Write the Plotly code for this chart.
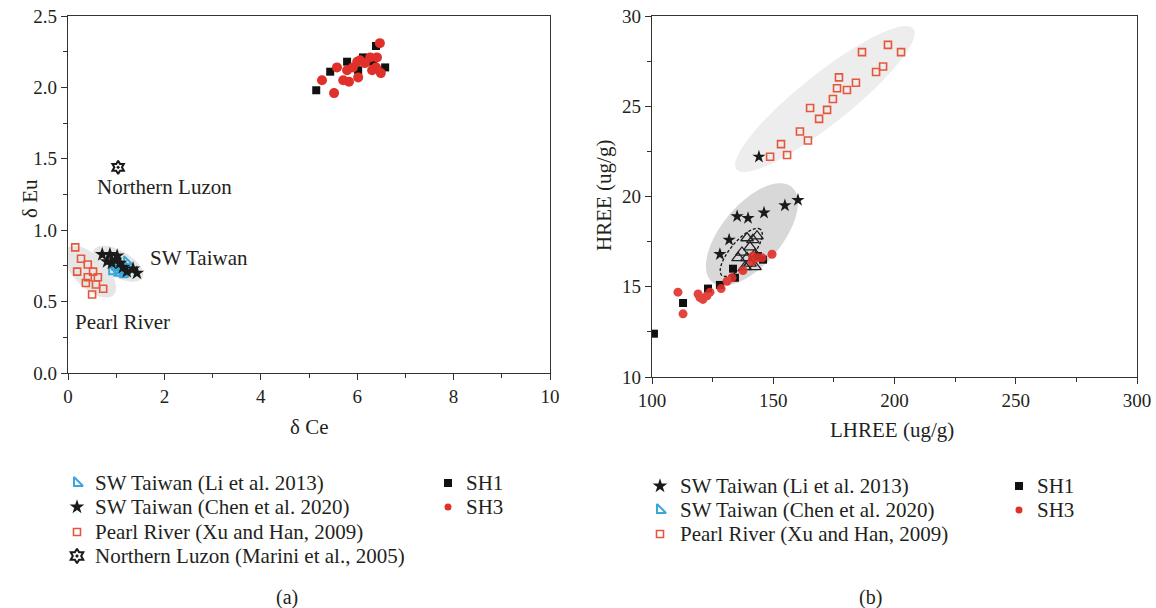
import numpy as np
import plotly.graph_objects as go

# ---------------- data ----------------
# Panel (a): delta Ce vs delta Eu
a_sh1_x = [5.15, 5.44, 5.79, 6.12, 6.02, 6.33, 6.39, 6.58]
a_sh1_y = [1.98, 2.11, 2.18, 2.21, 2.12, 2.18, 2.29, 2.14]
a_sh3_x = [6.47, 5.27, 5.52, 5.58, 5.79, 5.71, 5.83, 6.02, 6.00, 6.06, 6.27, 6.41, 6.31, 6.49, 6.39, 5.91, 6.16]
a_sh3_y = [2.31, 2.05, 1.96, 2.14, 2.12, 2.05, 2.04, 2.07, 2.18, 2.19, 2.21, 2.21, 2.12, 2.10, 2.14, 2.14, 2.17]
a_pearl_x = [0.15, 0.27, 0.19, 0.41, 0.52, 0.41, 0.62, 0.37, 0.58, 0.73, 0.50]
a_pearl_y = [0.88, 0.80, 0.71, 0.76, 0.71, 0.67, 0.67, 0.63, 0.62, 0.59, 0.55]
a_chen_x = [0.71, 0.87, 1.02, 0.81, 0.98, 1.08, 1.14, 1.22, 1.35, 1.43, 0.91]
a_chen_y = [0.83, 0.83, 0.82, 0.78, 0.79, 0.77, 0.74, 0.71, 0.73, 0.70, 0.77]
a_li_x = [1.22, 0.91, 1.02, 1.08, 1.18, 1.24, 0.98, 1.14]
a_li_y = [0.78, 0.71, 0.70, 0.72, 0.71, 0.74, 0.74, 0.69]
a_luzon_x = [1.04]
a_luzon_y = [1.44]

# Panel (b): LHREE vs HREE
b_pearl_x = [186.6, 197.3, 202.7, 192.4, 195.3, 177.1, 184.1, 180.4, 176.3, 174.6, 172.2, 165.2, 168.9, 161.0, 164.3, 153.2, 155.7, 148.7]
b_pearl_y = [28.0, 28.4, 28.0, 26.9, 27.2, 26.6, 26.3, 25.9, 26.0, 25.4, 24.8, 24.9, 24.3, 23.6, 23.1, 22.9, 22.3, 22.2]
b_li_x = [144.1, 135.1, 139.6, 146.2, 154.8, 160.2, 131.8, 128.0]
b_li_y = [22.2, 18.9, 18.8, 19.1, 19.5, 19.8, 17.6, 16.8]
b_chen_x = [139.2, 141.6, 140.4, 137.1, 139.2, 142.5, 135.5, 138.4, 142.5, 140.4, 143.3]
b_chen_y = [17.7, 17.6, 17.2, 16.9, 16.6, 16.8, 16.6, 16.1, 16.1, 16.3, 17.8]
b_sh1_x = [100.8, 112.8, 123.1, 128.0, 134.2, 133.4, 145.8, 143.7]
b_sh1_y = [12.4, 14.1, 14.9, 15.1, 15.5, 16.0, 16.5, 16.7]
b_sh3_x = [110.7, 112.8, 119.0, 121.0, 122.7, 123.9, 119.8, 128.5, 130.9, 133.0, 137.5, 141.2, 143.7, 149.5, 141.6, 145.4]
b_sh3_y = [14.7, 13.5, 14.6, 14.3, 14.5, 14.7, 14.4, 14.9, 15.3, 15.5, 15.9, 16.4, 16.6, 16.8, 16.7, 16.6]

# legend labels
leg_a_left = ["SW Taiwan (Li et al. 2013)", "SW Taiwan (Chen et al. 2020)",
              "Pearl River (Xu and Han, 2009)", "Northern Luzon (Marini et al., 2005)"]
leg_a_right = ["SH1", "SH3"]
leg_b_left = ["SW Taiwan (Li et al. 2013)", "SW Taiwan (Chen et al. 2020)", "Pearl River (Xu and Han, 2009)"]
leg_b_right = ["SH1", "SH3"]

# ---------------- layout constants ----------------
W, H = 1156, 608
FONT = "Liberation Serif"
TXT = "#231f20"
RED = "#e0302a"
ORANGE = "#e5573c"
BLUE = "#3aa7d9"
BLACK = "#1a1a1a"

ax_a = dict(x0=68, x1=550, y0=16, y1=373, xr=(0, 10), yr=(0, 2.5))
ax_b = dict(x0=652, x1=1137, y0=16, y1=377, xr=(100, 300), yr=(10, 30))

# marker styles
ST = dict(
    li_tri=dict(symbol="triangle-sw-open", size=9, color=BLUE, line=dict(width=2)),
    star=dict(symbol="star", size=11, color=BLACK, line=dict(width=0)),
    pearl=dict(symbol="square-open", size=7, color=ORANGE, line=dict(width=1.6)),
    luzon=dict(symbol="hexagram-open-dot", size=10, color=BLACK, line=dict(width=2)),
    sh1=dict(symbol="square", size=8, color="#111111"),
    sh3=dict(symbol="circle", size=10, color=RED),
    chen_b=dict(symbol="triangle-up-open", size=11, color="#222222", line=dict(width=1.3)),
)


def dom(ax):
    return [ax["x0"] / W, ax["x1"] / W], [1 - ax["y1"] / H, 1 - ax["y0"] / H]


def ellipse_path(ax, cx, cy, a_px, b_px, ang_deg):
    """Ellipse with semi-axes given in screen pixels, converted to data units."""
    sx = (ax["x1"] - ax["x0"]) / (ax["xr"][1] - ax["xr"][0])
    sy = (ax["y1"] - ax["y0"]) / (ax["yr"][1] - ax["yr"][0])
    t = np.linspace(0, 2 * np.pi, 90)
    th = np.deg2rad(ang_deg)
    px = a_px * np.cos(t) * np.cos(th) - b_px * np.sin(t) * np.sin(th)
    py = a_px * np.cos(t) * np.sin(th) + b_px * np.sin(t) * np.cos(th)
    xs = cx + px / sx
    ys = cy + py / sy
    return "M " + " L ".join(f"{x:.4f},{y:.4f}" for x, y in zip(xs, ys)) + " Z"


fig = go.Figure()

# ---------- panel (a) traces ----------
fig.add_trace(go.Scatter(x=a_pearl_x, y=a_pearl_y, mode="markers", name=leg_a_left[2], marker=ST["pearl"], xaxis="x", yaxis="y"))
fig.add_trace(go.Scatter(x=a_li_x, y=a_li_y, mode="markers", name=leg_a_left[0], marker=ST["li_tri"], xaxis="x", yaxis="y"))
fig.add_trace(go.Scatter(x=a_chen_x, y=a_chen_y, mode="markers", name=leg_a_left[1], marker=ST["star"], xaxis="x", yaxis="y"))
fig.add_trace(go.Scatter(x=a_luzon_x, y=a_luzon_y, mode="markers", name=leg_a_left[3], marker=ST["luzon"], xaxis="x", yaxis="y"))
fig.add_trace(go.Scatter(x=a_sh1_x, y=a_sh1_y, mode="markers", name="SH1", marker=ST["sh1"], xaxis="x", yaxis="y"))
fig.add_trace(go.Scatter(x=a_sh3_x, y=a_sh3_y, mode="markers", name="SH3", marker=ST["sh3"], xaxis="x", yaxis="y"))

# ---------- panel (b) traces ----------
fig.add_trace(go.Scatter(x=b_pearl_x, y=b_pearl_y, mode="markers", name=leg_b_left[2], marker=ST["pearl"], xaxis="x2", yaxis="y2"))
fig.add_trace(go.Scatter(x=b_li_x, y=b_li_y, mode="markers", name=leg_b_left[0], marker=dict(ST["star"], size=10), xaxis="x2", yaxis="y2"))
fig.add_trace(go.Scatter(x=b_sh1_x, y=b_sh1_y, mode="markers", name="SH1", marker=ST["sh1"], xaxis="x2", yaxis="y2"))
fig.add_trace(go.Scatter(x=b_chen_x, y=b_chen_y, mode="markers", name=leg_b_left[1], marker=ST["chen_b"], xaxis="x2", yaxis="y2"))
fig.add_trace(go.Scatter(x=b_sh3_x, y=b_sh3_y, mode="markers", name="SH3", opacity=0.9,
                         marker=dict(ST["sh3"], size=9), xaxis="x2", yaxis="y2"))

# ---------- legend keys (drawn on a hidden overlay axis in page pixels) ----------
LEG_FS = 21
legend_blocks = [
    # (key x, text x, row ys, labels, marker styles)
    (77, 93, [483, 507, 532, 556], leg_a_left,
     [dict(ST["li_tri"], size=10), dict(ST["star"], size=11), dict(ST["pearl"], size=7), dict(ST["luzon"], size=11)]),
    (448, 464, [483, 507], leg_a_right, [dict(ST["sh1"], size=8), dict(ST["sh3"], size=7)]),
    (660, 678, [486, 510, 534], leg_b_left,
     [dict(ST["star"], size=11), dict(ST["li_tri"], size=10), dict(ST["pearl"], size=7)]),
    (1019, 1035, [486, 510], leg_b_right, [dict(ST["sh1"], size=8), dict(ST["sh3"], size=7)]),
]
ann = []
for kx, tx, ys, labels, styles in legend_blocks:
    for yy, lab, st in zip(ys, labels, styles):
        fig.add_trace(go.Scatter(x=[kx], y=[yy], mode="markers", marker=st, xaxis="x3", yaxis="y3",
                                 cliponaxis=False, hoverinfo="skip", showlegend=False))
        ann.append(dict(x=tx / W, y=1 - yy / H, xref="paper", yref="paper", text=lab, showarrow=False,
                        xanchor="left", yanchor="middle", font=dict(family=FONT, size=LEG_FS, color=TXT)))

# ---------- background ellipses ----------
shapes = []
for ax, xr, yr, cx, cy, a_px, b_px, ang, fill, dash in [
    (ax_a, "x", "y", 0.46, 0.71, 33, 16, -45, "#e6e6e6", None),
    (ax_a, "x", "y", 1.04, 0.765, 28, 13, -30, "#e6e6e6", None),
    (ax_b, "x2", "y2", 171.3, 25.4, 113, 25, 38.5, "#ededed", None),
    (ax_b, "x2", "y2", 141.2, 17.9, 62, 30, 50, "#d8d8d8", None),
    (ax_b, "x2", "y2", 136.8, 16.9, 30, 11, 50, None, "3px,2px"),
]:
    s = dict(type="path", xref=xr, yref=yr, path=ellipse_path(ax, cx, cy, a_px, b_px, ang), layer="below")
    if fill:
        s.update(fillcolor=fill, line=dict(width=0))
    else:
        s.update(fillcolor="rgba(0,0,0,0)", line=dict(color="#111111", width=1.3, dash=dash))
    shapes.append(s)


# ---------- axes ----------
def axis_common(rng, dtick, minor_dtick, fmt=None):
    d = dict(range=list(rng), dtick=dtick, tick0=rng[0], showgrid=False, zeroline=False, automargin=False,
             showline=True, linecolor="#333333", linewidth=1.2, mirror=True,
             ticks="outside", ticklen=6, tickwidth=1.2, tickcolor="#333333",
             tickfont=dict(family=FONT, size=19, color=TXT),
             minor=dict(dtick=minor_dtick, ticks="outside", ticklen=4, tickwidth=1.2, tickcolor="#333333", showgrid=False))
    if fmt:
        d["tickformat"] = fmt
    return d


xa_dom, ya_dom = dom(ax_a)
xb_dom, yb_dom = dom(ax_b)

layout = dict(
    template="none",
    width=W, height=H, margin=dict(l=0, r=0, t=0, b=0, autoexpand=False),
    paper_bgcolor="white", plot_bgcolor="rgba(0,0,0,0)",
    font=dict(family=FONT, size=19, color=TXT),
    xaxis=dict(domain=xa_dom, anchor="y", **axis_common(ax_a["xr"], 2, 1)),
    yaxis=dict(domain=ya_dom, anchor="x", **axis_common(ax_a["yr"], 0.5, 0.25, ".1f")),
    xaxis2=dict(domain=xb_dom, anchor="y2", **axis_common(ax_b["xr"], 50, 25)),
    yaxis2=dict(domain=yb_dom, anchor="x2", **axis_common(ax_b["yr"], 5, 2.5)),
    xaxis3=dict(domain=[0, 1], range=[0, W], visible=False, anchor="y3", fixedrange=True),
    yaxis3=dict(domain=[0, 1], range=[H, 0], visible=False, anchor="x3", fixedrange=True),
    shapes=shapes,
    showlegend=False,
)


def text(x, y, s, size=21, angle=0, xref="paper", yref="paper"):
    ann.append(dict(x=x, y=y, xref=xref, yref=yref, text=s, showarrow=False, textangle=angle,
                    font=dict(family=FONT, size=size, color=TXT), xanchor="center", yanchor="middle"))


text(30 / W, 1 - 199 / H, "δ Eu", 21, -90)
text(309 / W, 1 - 427 / H, "δ Ce", 21)
text(604 / W, 1 - 196 / H, "HREE (ug/g)", 21, -90)
text(892 / W, 1 - 430 / H, "LHREE (ug/g)", 21)
text(287 / W, 1 - 597 / H, "(a)", 20)
text(870 / W, 1 - 597 / H, "(b)", 20)
# in-panel labels (panel a data coordinates)
text(2.01, 1.30, "Northern Luzon", 21, 0, "x", "y")
text(2.72, 0.805, "SW Taiwan", 21, 0, "x", "y")
text(1.14, 0.357, "Pearl River", 21, 0, "x", "y")
layout["annotations"] = ann

fig.update_layout(**layout)
fig.write_html("out.html", config={"displayModeBar": False},
               post_script="document.body.style.margin='0px';document.body.style.overflow='hidden';")
